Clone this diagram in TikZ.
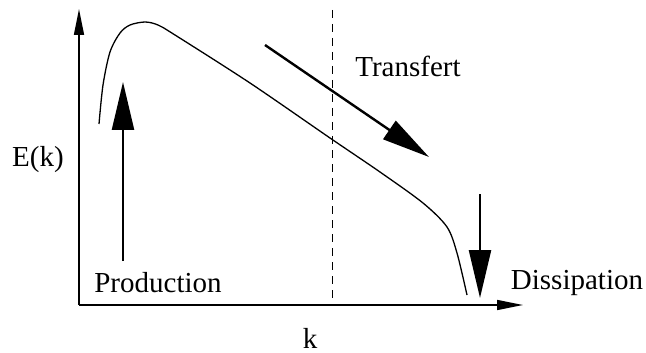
\documentclass[tikz,border=0pt]{standalone}
\usepackage{fontspec}
\setmainfont{Liberation Serif}
\usetikzlibrary{arrows.meta}
\begin{document}
\begin{tikzpicture}[x=1pt,y=-1pt,
  axis/.style={line width=1.5pt,-{Triangle[length=26pt,width=10pt]}},
  bigarrow/.style={line width=2.4pt,-{Triangle[length=48pt,width=22pt]}},
  lbl/.style={font=\fontsize{29}{34}\selectfont,inner sep=0pt}]
\useasboundingbox (0,0) rectangle (646,353);
\coordinate (O) at (79,305);
\coordinate (Ytop) at (79,9);
\coordinate (Xend) at (523,305);
\draw[axis] (O) -- (Ytop);
\draw[axis] (O) -- (Xend);
\coordinate (Dtop) at (332,10);
\coordinate (Dbot) at (332,305);
\draw[dashed,line width=1pt,dash pattern=on 8pt off 6pt] (Dtop) -- (Dbot);
\draw[line width=1.3pt] plot[smooth,tension=0.5] coordinates {(99,124) (103,85) (110,52) (120,33) (130,25) (145,22) (158,25) (175,35) (250,83) (330,138) (380,172) (423,203) (447,227) (457,253) (467,295)};
\coordinate (P1) at (123,261);
\coordinate (P2) at (123,82);
\draw[bigarrow] (P1) -- (P2);
\coordinate (T1) at (265,45);
\coordinate (T2) at (429,157);
\draw[bigarrow] (T1) -- (T2);
\coordinate (D1) at (480,194);
\coordinate (D2) at (480,298);
\draw[bigarrow] (D1) -- (D2);
\node[lbl] (ek) at (38,160) {E(k)};
\node[lbl] (k) at (310,338) {k};
\node[lbl] (prod) at (158,283) {Production};
\node[lbl] (trans) at (408,66) {Transfert};
\node[lbl] (diss) at (577,283) {Dissipation};
\end{tikzpicture}
\end{document}
